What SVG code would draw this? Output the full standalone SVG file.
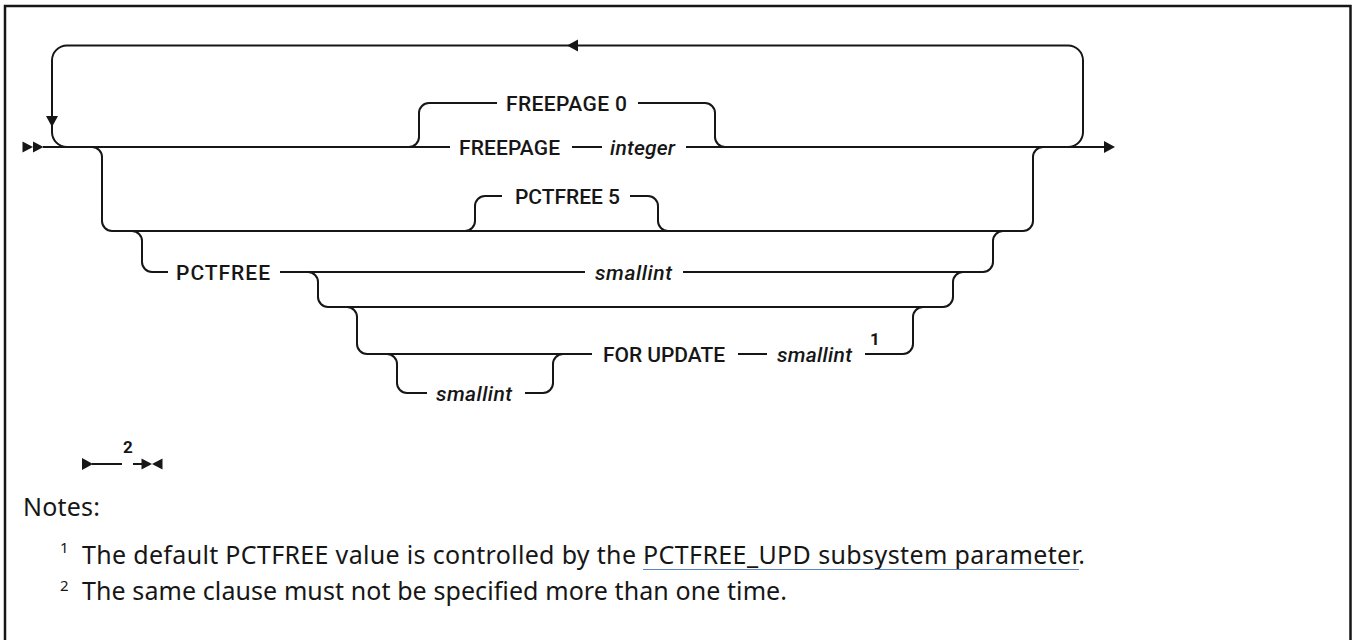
<svg xmlns="http://www.w3.org/2000/svg" xmlns:xlink="http://www.w3.org/1999/xlink" width="1352" height="640" viewBox="0 0 1352 640">
<style>
.ln{fill:none;stroke:#161616;stroke-width:2}
.ah{fill:#161616;stroke:none}
.kw{font-family:Roboto,"Liberation Sans",sans-serif;font-weight:500;font-size:21px;fill:#161616}
.var{font-family:Roboto,"Liberation Sans",sans-serif;font-weight:500;font-style:italic;font-size:21px;fill:#161616}
.sup{font-family:Roboto,"Liberation Sans",sans-serif;font-weight:700;font-size:17px;fill:#161616}
.note{font-family:"Noto Sans","Liberation Sans",sans-serif;font-size:25px;fill:#161616}
.nsup{font-family:"Noto Sans","Liberation Sans",sans-serif;font-size:15px;fill:#161616}
.frame{fill:none;stroke:#161616;stroke-width:2.5}
</style>
<defs>
<path id="tri" d="M-11,-6 L0,0 L-11,6 Z"/>
<path id="tris" d="M-10.5,-5.5 L0,0 L-10.5,5.5 Z"/>
</defs>
<rect class="frame" x="5" y="6" width="1345.5" height="700"/>
<g id="connectors">
<path class="ln" d="M43,147 H450"/>
<path class="ln" d="M572,147 H602"/>
<path class="ln" d="M686,147 H1104"/>
<path class="ln" d="M1068,147 A15,15 0 0 0 1083,132 V60.5 A15,15 0 0 0 1068,45.5 H67 A15,15 0 0 0 52,60.5 V132 A15,15 0 0 0 67,147"/>
<path class="ln" d="M409,147 A10,10 0 0 0 419,137 V113 A10,10 0 0 1 429,103 H497"/>
<path class="ln" d="M638,103 H705 A10,10 0 0 1 715,113 V137 A10,10 0 0 0 725,147"/>
<path class="ln" d="M92,147 A10,10 0 0 1 102,157 V221 A10,10 0 0 0 112,231 H1023 A10,10 0 0 0 1033,221 V157 A10,10 0 0 1 1043,147"/>
<path class="ln" d="M465,231 A10,10 0 0 0 475,221 V206 A10,10 0 0 1 485,196 H502"/>
<path class="ln" d="M630,196 H648 A10,10 0 0 1 658,206 V221 A10,10 0 0 0 668,231"/>
<path class="ln" d="M132,231 A10,10 0 0 1 142,241 V262 A10,10 0 0 0 152,272 H168"/>
<path class="ln" d="M280,272 H585"/>
<path class="ln" d="M683,272 H983 A10,10 0 0 0 993,262 V241 A10,10 0 0 1 1003,231"/>
<path class="ln" d="M308,272 A10,10 0 0 1 318,282 V297 A10,10 0 0 0 328,307 H943 A10,10 0 0 0 953,297 V282 A10,10 0 0 1 963,272"/>
<path class="ln" d="M347,307 A10,10 0 0 1 357,317 V344 A10,10 0 0 0 367,354 H592"/>
<path class="ln" d="M738,354 H767"/>
<path class="ln" d="M865,354 H903 A10,10 0 0 0 913,344 V317 A10,10 0 0 1 923,307"/>
<path class="ln" d="M387,354 A10,10 0 0 1 397,364 V383 A10,10 0 0 0 407,393 H427"/>
<path class="ln" d="M525,393 H543 A10,10 0 0 0 553,383 V364 A10,10 0 0 1 563,354"/>
<use xlink:href="#tris" href="#tris" class="ah" transform="translate(33,147)"/>
<use xlink:href="#tris" href="#tris" class="ah" transform="translate(43.5,147)"/>
<use xlink:href="#tri" href="#tri" class="ah" transform="translate(1115,147)"/>
<use xlink:href="#tri" href="#tri" class="ah" transform="translate(567,45.5) rotate(180)"/>
<use xlink:href="#tri" href="#tri" class="ah" transform="translate(52,127) rotate(90)"/>
<path class="ln" d="M92,464 H122"/>
<path class="ln" d="M133,464 H143"/>
<use xlink:href="#tri" href="#tri" class="ah" transform="translate(93,464)"/>
<use xlink:href="#tris" href="#tris" class="ah" transform="translate(152,464)"/>
<use xlink:href="#tris" href="#tris" class="ah" transform="translate(152,464) rotate(180)"/>
</g>
<g id="n-freepage0"><text class="kw" x="506" y="110.5" textLength="121">FREEPAGE 0</text></g>
<g id="n-freepage"><text class="kw" x="459" y="154.5" textLength="101">FREEPAGE</text></g>
<g id="n-integer"><text class="var" x="610" y="154.5" textLength="65">integer</text></g>
<g id="n-pctfree5"><text class="kw" x="515" y="203.5" textLength="105">PCTFREE 5</text></g>
<g id="n-pctfree"><text class="kw" x="176" y="279.5" textLength="94">PCTFREE</text></g>
<g id="n-smallint1"><text class="var" x="595" y="279.5" textLength="77">smallint</text></g>
<g id="n-forupdate"><text class="kw" x="603" y="361.5" textLength="122">FOR UPDATE</text></g>
<g id="n-smallint2"><text class="var" x="777" y="361.5" textLength="75">smallint</text><text class="sup" x="870" y="345">1</text></g>
<g id="n-smallint3"><text class="var" x="436" y="400.5" textLength="76">smallint</text></g>
<g id="n-repeat-note"><text class="sup" x="123" y="453">2</text></g>
<g id="notes">
<text class="note" x="23" y="516" textLength="77">Notes:</text>
<text class="nsup" x="60" y="553">1</text>
<text class="note" x="82" y="564" textLength="554">The default PCTFREE value is controlled by the</text>
<text class="note" x="643" y="564" textLength="442">PCTFREE_UPD subsystem parameter.</text>
<line x1="643" y1="569.5" x2="1079" y2="569.5" stroke="#5b84c8" stroke-width="1"/>
<text class="nsup" x="60" y="591">2</text>
<text class="note" x="82" y="600" textLength="705">The same clause must not be specified more than one time.</text>
</g>
</svg>
